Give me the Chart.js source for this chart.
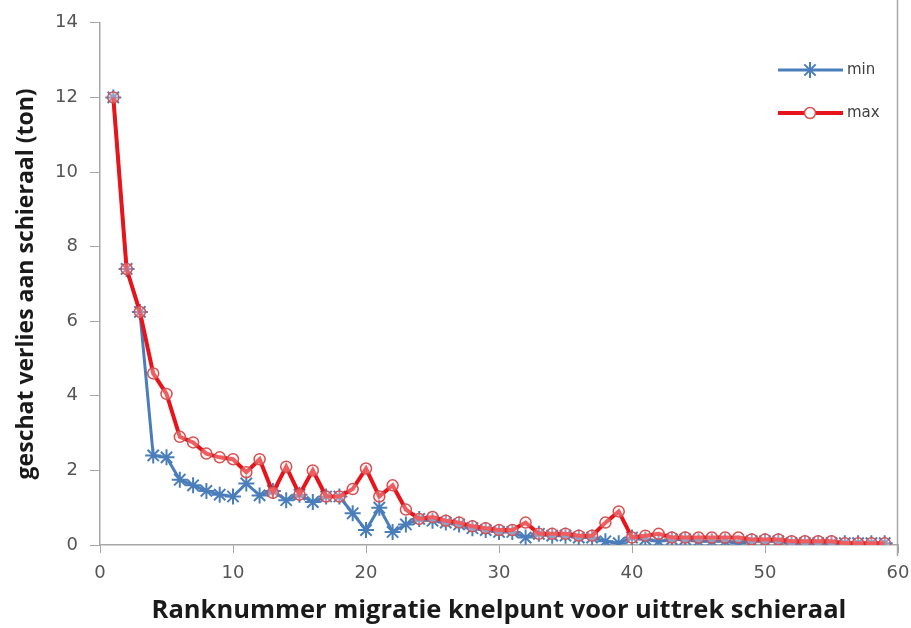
<!DOCTYPE html>
<html>
<head>
<meta charset="utf-8">
<script src="https://cdn.jsdelivr.net/npm/chart.js@4"></script>
<style>
  html, body { margin: 0; padding: 0; background: #fff; }
  #wrap { width: 911px; height: 628px; }
</style>
</head>
<body>
<div id="wrap"><canvas id="myChart"></canvas></div>
<script>
// rank number of the bottleneck (x) and estimated loss in ton (y)
const ranks = [];
for (let i = 1; i <= 59; i++) ranks.push(i);

const minLoss = [12.0, 7.4, 6.25, 2.4, 2.35, 1.75, 1.6, 1.45, 1.35, 1.3,
  1.65, 1.33, 1.45, 1.2, 1.35, 1.15, 1.3, 1.3, 0.85, 0.4,
  1.0, 0.35, 0.55, 0.7, 0.65, 0.6, 0.55, 0.45, 0.4, 0.35,
  0.35, 0.2, 0.3, 0.25, 0.25, 0.2, 0.2, 0.1, 0.05, 0.2,
  0.15, 0.1, 0.15, 0.15, 0.1, 0.1, 0.1, 0.05, 0.1, 0.1,
  0.1, 0.05, 0.05, 0.05, 0.05, 0.05, 0.05, 0.05, 0.05];

const maxLoss = [12.0, 7.4, 6.25, 4.6, 4.05, 2.9, 2.75, 2.45, 2.35, 2.3,
  1.95, 2.3, 1.4, 2.1, 1.35, 2.0, 1.3, 1.3, 1.5, 2.05,
  1.3, 1.6, 0.95, 0.7, 0.75, 0.65, 0.6, 0.5, 0.45, 0.4,
  0.4, 0.6, 0.3, 0.3, 0.3, 0.25, 0.25, 0.6, 0.9, 0.2,
  0.25, 0.3, 0.2, 0.2, 0.2, 0.2, 0.2, 0.2, 0.15, 0.15,
  0.15, 0.1, 0.1, 0.1, 0.1, 0.05, 0.05, 0.05, 0.05];

const seriesNames = ['min', 'max'];
const xTitle = 'Ranknummer migratie knelpunt voor uittrek schieraal';
const yTitle = 'geschat verlies aan schieraal (ton)';

const blue = '#4a7ebb';
const red = '#e8141b';
const axisGray = '#a6a6a6';
const txtGray = '#555555';

const ctx = document.getElementById('myChart');

// legend in the upper right corner, drawn like the original (line + marker)
const sideLegend = {
  id: 'sideLegend',
  afterDraw(chart) {
    const c = chart.ctx;
    const items = [
      { ds: chart.data.datasets[0], y: 70 },
      { ds: chart.data.datasets[1], y: 113 }
    ];
    c.save();
    // right frame line
    c.strokeStyle = axisGray;
    c.lineWidth = 1.5;
    c.beginPath();
    c.moveTo(chart.chartArea.right - 0.5, 0);
    c.lineTo(chart.chartArea.right - 0.5, 556);
    c.stroke();

    items.forEach(it => {
      const ds = it.ds;
      c.strokeStyle = ds.borderColor;
      c.lineWidth = ds.borderWidth;
      c.beginPath();
      c.moveTo(778, it.y);
      c.lineTo(843, it.y);
      c.stroke();
      c.strokeStyle = ds.pointBorderColor;
      c.fillStyle = '#ffffff';
      c.lineWidth = ds.pointBorderWidth;
      Chart.helpers.drawPoint(c, {
        pointStyle: ds.pointStyle,
        radius: ds.pointRadius,
        borderWidth: ds.pointBorderWidth
      }, 810, it.y);
      c.fillStyle = '#404040';
      c.font = '15px "DejaVu Sans"';
      c.textBaseline = 'middle';
      c.fillText(ds.label, 847, it.y);
    });
    c.restore();
  }
};

const data = {
  datasets: [
    {
      label: seriesNames[0],
      data: ranks.map((r, i) => ({ x: r, y: minLoss[i] })),
      borderColor: blue,
      borderWidth: 3,
      pointStyle: 'star',
      pointRadius: 8,
      pointBorderWidth: 2,
      pointBorderColor: blue,
      pointBackgroundColor: blue,
      order: 2
    },
    {
      label: seriesNames[1],
      data: ranks.map((r, i) => ({ x: r, y: maxLoss[i] })),
      borderColor: red,
      borderWidth: 4,
      pointStyle: 'circle',
      pointRadius: 5.5,
      pointBorderWidth: 1.5,
      pointBorderColor: '#d85050',
      pointBackgroundColor: 'rgba(255,230,230,0.35)',
      order: 1
    }
  ]
};

const config = {
  type: 'line',
  data: data,
  plugins: [sideLegend],
  options: {
    responsive: true,
    maintainAspectRatio: false,
    animation: false,
    layout: { padding: { left: 0, right: 13, top: 19, bottom: 0 } },
    plugins: {
      legend: { display: false },
      tooltip: { enabled: false }
    },
    scales: {
      x: {
        type: 'linear',
        min: 0,
        max: 60,
        afterFit: s => { s.height = 83; s.paddingLeft = 0; s.paddingRight = 0; },
        border: { color: axisGray, width: 1.5 },
        grid: { drawOnChartArea: false, color: axisGray, tickLength: 8 },
        ticks: {
          stepSize: 10,
          color: txtGray,
          padding: 10,
          font: { family: 'DejaVu Sans', size: 18 }
        },
        title: {
          display: true,
          text: xTitle,
          color: '#1a1a1a',
          padding: { top: 4, bottom: 2 },
          font: { family: 'Open Sans', size: 25.5, weight: 'bold' }
        }
      },
      y: {
        min: 0,
        max: 14,
        afterFit: s => { s.width = 100; },
        border: { color: axisGray, width: 1.5 },
        grid: { drawOnChartArea: false, color: axisGray, tickLength: 10 },
        ticks: {
          stepSize: 2,
          color: txtGray,
          padding: 12,
          font: { family: 'DejaVu Sans', size: 18 }
        },
        title: {
          display: true,
          text: yTitle,
          color: '#1a1a1a',
          padding: { top: 13, bottom: 4 },
          font: { family: 'Open Sans', size: 23, weight: 'bold' }
        }
      }
    }
  }
};

const myChart = new Chart(ctx, config);
</script>
</body>
</html>
